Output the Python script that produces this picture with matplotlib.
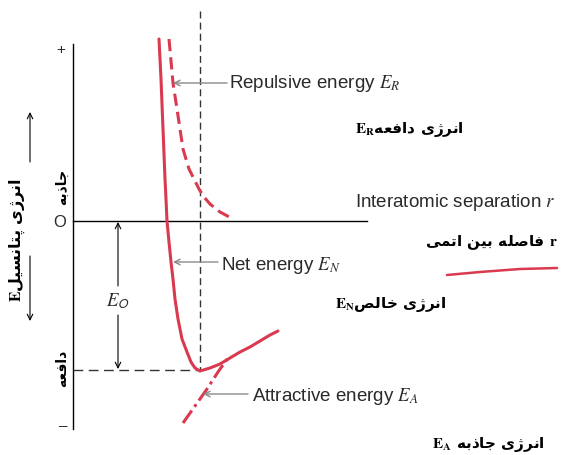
import matplotlib
matplotlib.use("Agg")
import matplotlib.pyplot as plt

plt.rcParams["mathtext.fontset"] = "stix"

RED = "#d93a4f"
GREY = "#8a8a8a"

# curves (pixel positions, y downwards)
net_x = [159, 161, 163, 165, 166, 167, 169, 171, 173, 175, 178, 182, 187, 191, 195, 200,
         210, 220, 230, 240, 250, 260, 270, 278]
net_y = [40, 80, 130, 180, 200, 222, 243, 263, 280, 300, 320, 340, 353, 363, 369, 372,
         369, 365, 359, 353, 348, 342, 336, 332]

rep_x = [169, 171, 173, 175, 177, 180, 183, 186, 189, 194, 199, 204, 210, 220, 233]
rep_y = [40, 62, 84, 97, 110, 130, 150, 160, 170, 180, 190, 198, 205, 213, 220]

att_x = [183, 195, 207, 218, 230]
att_y = [424, 407, 390, 373, 356]

stroke_x = [447, 480, 520, 557]
stroke_y = [276, 273, 270, 269]

# English labels and Persian labels
en_labels = ["Repulsive energy $E_R$", "Net energy $E_N$", "Attractive energy $E_A$"]
fa_repulsive = "انرژی دافعه"
fa_net = "انرژی خالص"
fa_attractive = "انرژی جاذبه"
fa_separation = "فاصله بین اتمی"
fa_potential = "انرژی پتانسیل"
fa_top = "جاذبه"
fa_bottom = "دافعه"

# simple Persian shaping with presentation forms (iso, fin, ini, med)
FORMS = {
    "ا": ("\uFE8D", "\uFE8E", None, None),
    "ب": ("\uFE8F", "\uFE90", "\uFE91", "\uFE92"),
    "پ": ("\uFB56", "\uFB57", "\uFB58", "\uFB59"),
    "ت": ("\uFE95", "\uFE96", "\uFE97", "\uFE98"),
    "ج": ("\uFE9D", "\uFE9E", "\uFE9F", "\uFEA0"),
    "خ": ("\uFEA5", "\uFEA6", "\uFEA7", "\uFEA8"),
    "د": ("\uFEA9", "\uFEAA", None, None),
    "ذ": ("\uFEAB", "\uFEAC", None, None),
    "ر": ("\uFEAD", "\uFEAE", None, None),
    "ژ": ("\uFB8A", "\uFB8B", None, None),
    "س": ("\uFEB1", "\uFEB2", "\uFEB3", "\uFEB4"),
    "ص": ("\uFEB9", "\uFEBA", "\uFEBB", "\uFEBC"),
    "ع": ("\uFEC9", "\uFECA", "\uFECB", "\uFECC"),
    "ف": ("\uFED1", "\uFED2", "\uFED3", "\uFED4"),
    "ل": ("\uFEDD", "\uFEDE", "\uFEDF", "\uFEE0"),
    "م": ("\uFEE1", "\uFEE2", "\uFEE3", "\uFEE4"),
    "ن": ("\uFEE5", "\uFEE6", "\uFEE7", "\uFEE8"),
    "ه": ("\uFEE9", "\uFEEA", "\uFEEB", "\uFEEC"),
    "ی": ("\uFBFC", "\uFBFD", "\uFBFE", "\uFBFF"),
}


def shape(text):
    out = []
    for i, c in enumerate(text):
        if c not in FORMS:
            out.append(c)
            continue
        prev = text[i - 1] if i > 0 else ""
        nxt = text[i + 1] if i + 1 < len(text) else ""
        jp = prev in FORMS and FORMS[prev][2] is not None
        jn = FORMS[c][2] is not None and nxt in FORMS
        iso, fin, ini, med = FORMS[c]
        out.append(med if (jp and jn) else fin if jp else ini if jn else iso)
    return "".join(out[::-1])


fig = plt.figure(figsize=(5.66, 4.56), dpi=100)
ax = fig.add_axes([0, 0, 1, 1])
ax.set_xlim(0, 566)
ax.set_ylim(456, 0)
ax.axis("off")

# axes
ax.plot([73, 73], [45, 430], color="black", lw=1)
ax.plot([73, 367], [222, 222], color="black", lw=1)
ax.plot([200, 200], [12, 372], color="#333333", lw=1, dashes=(5, 3))
ax.plot([73, 200], [371, 371], color="#333333", lw=1, dashes=(7, 4))

# curves
ax.plot(net_x, net_y, color=RED, lw=2.2, solid_capstyle="round", solid_joinstyle="round")
ax.plot(rep_x, rep_y, color=RED, lw=2.2, dashes=(4, 2))
ax.plot(att_x, att_y, color=RED, lw=2.2, dashes=(5, 1.5, 1, 1.5))
ax.plot(stroke_x, stroke_y, color=RED, lw=1.8, solid_capstyle="round")

txt = dict(family="Liberation Sans", fontsize=13.5, color="#2a2a2a", va="center")
ax.text(61, 50, "+", ha="center", **dict(txt, fontsize=11))
ax.text(63, 426, "–", ha="center", **dict(txt, fontsize=11))
ax.text(60, 223, "O", ha="center", **dict(txt, fontsize=12))

# leaders
arr = dict(arrowstyle="->", color=GREY, lw=1, shrinkA=0, shrinkB=0)
ax.annotate("", xy=(173, 84), xytext=(227, 84), arrowprops=arr)
ax.annotate("", xy=(173, 263), xytext=(218, 263), arrowprops=arr)
ax.annotate("", xy=(203, 395), xytext=(248, 395), arrowprops=arr)
ax.text(229, 84, en_labels[0], ha="left", **txt)
ax.text(221, 266, en_labels[1], ha="left", **txt)
ax.text(252, 397, en_labels[2], ha="left", **txt)
ax.text(355, 203, "Interatomic separation $r$", ha="left", **txt)

# E0 arrow
blk = dict(arrowstyle="->", color="black", lw=0.8, shrinkA=0, shrinkB=0)
ax.annotate("", xy=(118, 223), xytext=(118, 287), arrowprops=blk)
ax.annotate("", xy=(118, 370), xytext=(118, 316), arrowprops=blk)
ax.text(118, 301, "$E_\\mathsf{O}$", ha="center", **txt)

# Persian labels
fa = dict(family="DejaVu Sans", fontweight="bold", fontsize=11, color="black", va="center")
ax.text(355, 130, "$\\mathbf{E}_\\mathbf{R}$" + shape(fa_repulsive), ha="left", **fa)
ax.text(558, 243, shape(fa_separation) + " $\\mathbf{r}$", ha="right", **fa)
ax.text(335, 305, "$\\mathbf{E}_\\mathbf{N}$" + shape(fa_net), ha="left", **fa)
ax.text(432, 445, "$\\mathbf{E}_\\mathbf{A}$ " + shape(fa_attractive), ha="left", **fa)

ax.text(17, 302, "$\\mathbf{E}$" + shape(fa_potential), rotation=90, ha="left",
        rotation_mode="anchor", **dict(fa, fontsize=11.5))
ax.text(62, 187, shape(fa_top), rotation=90, ha="center", **dict(fa, fontsize=10))
ax.text(62, 368, shape(fa_bottom), rotation=90, ha="center", **dict(fa, fontsize=10))

ax.annotate("", xy=(30, 113), xytext=(30, 163), arrowprops=blk)
ax.annotate("", xy=(30, 322), xytext=(30, 257), arrowprops=blk)

fig.savefig("out.png", dpi=100)
